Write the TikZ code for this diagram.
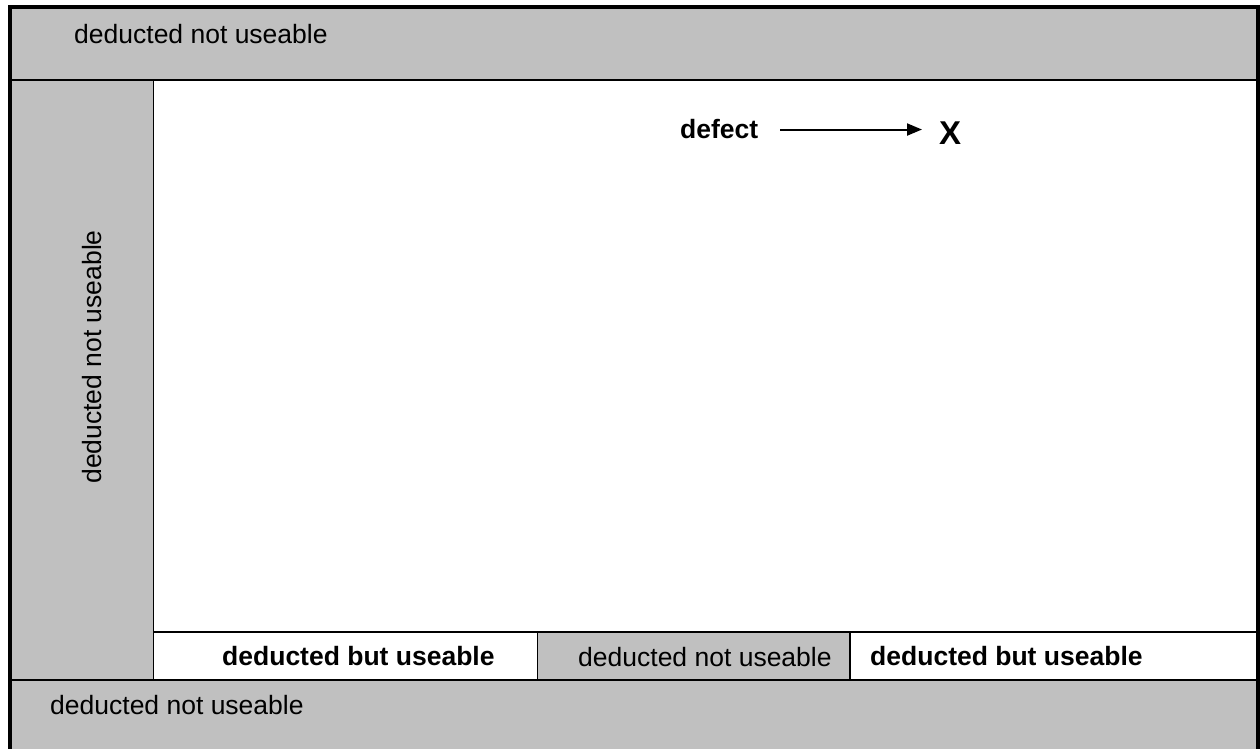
\documentclass[tikz,border=0pt]{standalone}
\usepackage{fontspec}
\setmainfont{Liberation Sans}
\usetikzlibrary{arrows.meta}
\definecolor{panelgray}{RGB}{192,192,192}
\tikzset{
  grayarea/.style={fill=panelgray, draw=black, line width=1.8pt},
  whitearea/.style={fill=white, draw=black, line width=1.8pt},
  lbl/.style={inner sep=0pt, font=\fontsize{26.5}{30}\selectfont},
  blbl/.style={lbl, font=\fontsize{26.5}{30}\selectfont\bfseries},
  pointer/.style={line width=2pt, -{Triangle[length=15pt,width=12pt]}}
}
\begin{document}
\begin{tikzpicture}[x=1pt,y=-1pt]
\useasboundingbox (0,0) rectangle (1260,749);
\clip (0,0) rectangle (1260,749);
\fill[white] (0,0) rectangle (1260,749);
% regions
\draw[grayarea] (9.5,7.5) rectangle (1257.5,80);
\draw[grayarea] (9.5,80) rectangle (153.5,680);
\draw[whitearea] (153.5,80) rectangle (1257.5,632);
\draw[whitearea] (153.5,632) rectangle (537.5,680);
\draw[grayarea] (537.5,632) rectangle (850,680);
\draw[whitearea] (850,632) rectangle (1257.5,680);
\draw[grayarea] (9.5,680) rectangle (1257.5,760);
% outer frame
\draw[line width=4pt] (9.5,760) -- (9.5,7.5) -- (1257.5,7.5) -- (1257.5,760);
% labels
\node[lbl, anchor=base west] (top) at (74,43.3) {deducted not useable};
\node[lbl, anchor=base, rotate=90] (left) at (101,357) {deducted not useable};
\node[lbl, anchor=base west] (bottom) at (50,714) {deducted not useable};
\node[blbl, anchor=base west] (bu1) at (222,665.5) {deducted but useable};
\node[lbl, anchor=base west] (mid) at (578,666) {deducted not useable};
\node[blbl, anchor=base west] (bu2) at (870,665.5) {deducted but useable};
\node[blbl, anchor=base west] (defect) at (680,139) {defect};
\node[inner sep=0pt, anchor=base west, font=\fontsize{33}{36}\selectfont\bfseries] (X) at (939,144.3) {X};
\draw[pointer, shorten <=22pt, shorten >=17pt] (defect.east) -- (defect.east -| X.west);
\end{tikzpicture}
\end{document}
